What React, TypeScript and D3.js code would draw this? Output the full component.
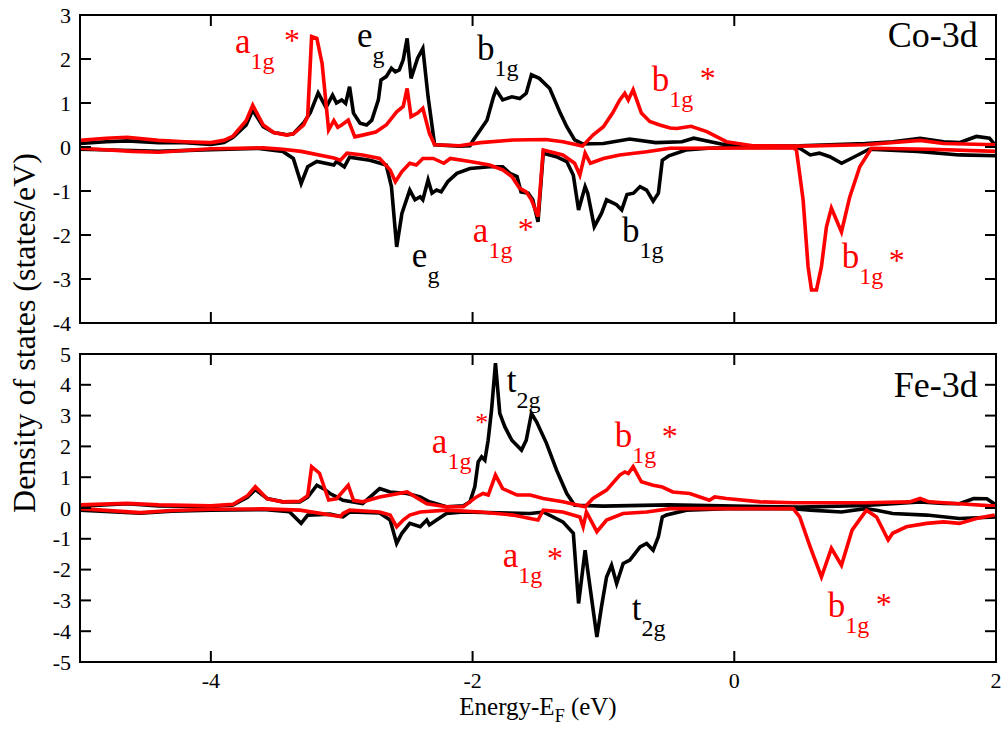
import React from 'react';
import * as d3 from 'd3';

type Pt = [number, number];

const xTicks = [-4, -2, 0, 2];
const coYTicks = [3, 2, 1, 0, -1, -2, -3, -4];
const feYTicks = [5, 4, 3, 2, 1, 0, -1, -2, -3, -4, -5];

// Co-3d, spin up (black)
const coUpBlack: Pt[] = [
  [-5.0, 0.08], [-4.8, 0.12], [-4.64, 0.14], [-4.4, 0.1], [-4.2, 0.1], [-4.0, 0.06], [-3.9, 0.1],
  [-3.83, 0.22], [-3.73, 0.5], [-3.68, 0.84], [-3.6, 0.46], [-3.52, 0.33], [-3.42, 0.28], [-3.37, 0.3],
  [-3.29, 0.55], [-3.24, 0.78], [-3.18, 1.23], [-3.12, 0.9], [-3.07, 1.18], [-3.04, 1.0], [-3.0, 1.07],
  [-2.97, 0.99], [-2.94, 1.37], [-2.91, 0.77], [-2.86, 0.54], [-2.81, 0.5], [-2.77, 0.61], [-2.72, 1.07],
  [-2.7, 1.52], [-2.66, 1.6], [-2.62, 1.79], [-2.59, 1.71], [-2.56, 1.75], [-2.53, 1.98], [-2.5, 2.47],
  [-2.47, 1.56], [-2.42, 2.02], [-2.38, 2.24], [-2.34, 1.14], [-2.29, 0.05], [-2.1, 0.02], [-2.02, 0.03],
  [-2.0, 0.13], [-1.94, 0.39], [-1.89, 0.61], [-1.84, 1.14], [-1.82, 1.3], [-1.77, 1.07], [-1.7, 1.14],
  [-1.64, 1.1], [-1.59, 1.22], [-1.55, 1.64], [-1.49, 1.56], [-1.41, 1.33], [-1.33, 0.77], [-1.28, 0.46],
  [-1.22, 0.16], [-1.16, 0.07], [-1.0, 0.08], [-0.8, 0.18], [-0.6, 0.1], [-0.4, 0.12], [-0.31, 0.2],
  [-0.1, 0.07], [0.1, 0.02], [0.5, 0.03], [1.0, 0.08], [1.21, 0.12], [1.42, 0.2], [1.6, 0.12], [1.72, 0.1],
  [1.85, 0.24], [1.95, 0.2], [2.0, 0.02],
];

// Co-3d, spin up (red)
const coUpRed: Pt[] = [
  [-5.0, 0.15], [-4.8, 0.2], [-4.64, 0.22], [-4.4, 0.15], [-4.2, 0.12], [-4.0, 0.1], [-3.9, 0.15],
  [-3.83, 0.25], [-3.73, 0.6], [-3.68, 0.95], [-3.6, 0.5], [-3.52, 0.33], [-3.42, 0.27], [-3.37, 0.3],
  [-3.29, 0.5], [-3.26, 0.7], [-3.23, 2.51], [-3.19, 2.47], [-3.15, 1.9], [-3.1, 0.39], [-3.06, 0.6],
  [-3.03, 0.45], [-3.0, 0.5], [-2.95, 0.61], [-2.9, 0.23], [-2.84, 0.27], [-2.74, 0.34], [-2.66, 0.5],
  [-2.58, 0.8], [-2.53, 0.92], [-2.5, 1.33], [-2.47, 0.69], [-2.42, 0.77], [-2.38, 0.88], [-2.33, 0.31],
  [-2.29, 0.05], [-2.1, 0.03], [-1.94, 0.1], [-1.69, 0.16], [-1.44, 0.17], [-1.31, 0.12], [-1.16, 0.02],
  [-1.08, 0.27], [-1.0, 0.46], [-0.93, 0.77], [-0.875, 1.07], [-0.837, 1.22], [-0.81, 1.07], [-0.773, 1.3],
  [-0.71, 0.77], [-0.646, 0.58], [-0.57, 0.5], [-0.49, 0.43], [-0.44, 0.42], [-0.33, 0.47], [-0.21, 0.35],
  [-0.06, 0.12], [0.14, 0.03], [0.5, 0.02], [1.0, 0.05], [1.42, 0.15], [1.6, 0.08], [2.0, 0.05],
];

// Co-3d, spin down (black)
const coDnBlack: Pt[] = [
  [-5.0, -0.05], [-4.6, -0.08], [-4.4, -0.1], [-4.0, -0.06], [-3.65, -0.03], [-3.45, -0.1], [-3.37, -0.26],
  [-3.31, -0.83], [-3.26, -0.45], [-3.19, -0.33], [-3.06, -0.41], [-3.04, -0.33], [-2.98, -0.45],
  [-2.94, -0.23], [-2.785, -0.3], [-2.66, -0.41], [-2.62, -0.9], [-2.58, -2.27], [-2.54, -1.51],
  [-2.48, -0.98], [-2.44, -1.2], [-2.4, -1.13], [-2.38, -1.2], [-2.34, -0.75], [-2.31, -1.05],
  [-2.275, -0.98], [-2.24, -1.02], [-2.19, -0.79], [-2.12, -0.6], [-2.02, -0.49], [-1.87, -0.45],
  [-1.77, -0.45], [-1.715, -0.6], [-1.66, -0.67], [-1.63, -1.02], [-1.575, -1.05], [-1.54, -1.2],
  [-1.5, -1.7], [-1.46, -0.14], [-1.36, -0.22], [-1.28, -0.33], [-1.23, -0.64], [-1.19, -1.43],
  [-1.14, -0.9], [-1.12, -1.05], [-1.07, -1.81], [-1.015, -1.51], [-0.976, -1.2], [-0.9, -1.31],
  [-0.86, -1.43], [-0.82, -1.08], [-0.77, -1.05], [-0.72, -0.9], [-0.67, -0.98], [-0.62, -1.23],
  [-0.58, -1.05], [-0.55, -0.3], [-0.5, -0.2], [-0.37, -0.07], [-0.2, -0.03], [0.0, -0.01], [0.45, -0.01],
  [0.5, -0.03], [0.58, -0.18], [0.65, -0.14], [0.73, -0.22], [0.82, -0.37], [0.9, -0.25], [1.03, -0.05],
  [1.4, -0.1], [1.72, -0.18], [2.0, -0.2],
];

// Co-3d, spin down (red)
const coDnRed: Pt[] = [
  [-5.0, -0.03], [-4.6, -0.1], [-4.4, -0.12], [-4.2, -0.08], [-4.0, -0.04], [-3.6, -0.02], [-3.45, -0.05],
  [-3.31, -0.1], [-3.06, -0.25], [-3.01, -0.3], [-2.96, -0.14], [-2.84, -0.18], [-2.71, -0.26],
  [-2.63, -0.52], [-2.59, -0.79], [-2.54, -0.56], [-2.48, -0.37], [-2.43, -0.41], [-2.38, -0.26],
  [-2.3, -0.26], [-2.22, -0.37], [-2.17, -0.26], [-2.02, -0.33], [-1.87, -0.41], [-1.77, -0.52],
  [-1.7, -0.67], [-1.64, -0.94], [-1.59, -1.02], [-1.55, -1.2], [-1.5, -1.58], [-1.46, -0.07],
  [-1.31, -0.18], [-1.22, -0.37], [-1.18, -0.64], [-1.14, -0.14], [-1.1, -0.37], [-1.0, -0.26],
  [-0.875, -0.18], [-0.67, -0.11], [-0.49, -0.03], [0.45, -0.02], [0.475, -0.07], [0.526, -1.2],
  [0.564, -2.72], [0.59, -3.25], [0.628, -3.25], [0.666, -2.72], [0.704, -1.82], [0.742, -1.39],
  [0.819, -1.93], [0.882, -1.14], [0.959, -0.45], [1.048, -0.03], [1.5, -0.05], [2.0, -0.1],
];

// Fe-3d, spin up (black)
const feUpBlack: Pt[] = [
  [-5.0, 0.06], [-4.64, 0.14], [-4.4, 0.07], [-4.0, 0.05], [-3.83, 0.1], [-3.72, 0.35], [-3.66, 0.6],
  [-3.57, 0.31], [-3.45, 0.2], [-3.32, 0.2], [-3.26, 0.35], [-3.19, 0.74], [-3.13, 0.6], [-3.09, 0.47],
  [-3.04, 0.36], [-2.99, 0.25], [-2.84, 0.14], [-2.71, 0.63], [-2.63, 0.52], [-2.5, 0.47], [-2.4, 0.36],
  [-2.33, 0.2], [-2.2, 0.04], [-2.07, 0.07], [-2.02, 0.2], [-1.983, 0.69], [-1.957, 1.5], [-1.931, 1.66],
  [-1.906, 1.55], [-1.881, 2.2], [-1.855, 3.18], [-1.825, 4.7], [-1.792, 3.07], [-1.754, 2.64],
  [-1.7, 2.2], [-1.626, 1.88], [-1.59, 2.2], [-1.55, 3.07], [-1.511, 2.8], [-1.435, 2.1], [-1.358, 1.23],
  [-1.28, 0.47], [-1.22, 0.09], [-1.0, 0.06], [-0.5, 0.1], [0.0, 0.06], [0.5, 0.03], [1.0, 0.08],
  [1.42, 0.2], [1.6, 0.15], [1.72, 0.14], [1.83, 0.31], [1.93, 0.3], [2.0, 0.1],
];

// Fe-3d, spin up (red)
const feUpRed: Pt[] = [
  [-5.0, 0.1], [-4.64, 0.15], [-4.4, 0.1], [-4.0, 0.07], [-3.83, 0.12], [-3.72, 0.4], [-3.66, 0.69],
  [-3.57, 0.3], [-3.45, 0.2], [-3.32, 0.22], [-3.26, 0.4], [-3.23, 1.34], [-3.17, 1.13], [-3.1, 0.26],
  [-3.04, 0.3], [-2.95, 0.74], [-2.91, 0.25], [-2.84, 0.2], [-2.71, 0.36], [-2.5, 0.52], [-2.35, 0.14],
  [-2.2, 0.04], [-2.07, 0.04], [-1.97, 0.36], [-1.92, 0.47], [-1.88, 0.42], [-1.825, 1.07], [-1.77, 0.63],
  [-1.66, 0.42], [-1.56, 0.42], [-1.46, 0.31], [-1.31, 0.2], [-1.14, 0.04], [-1.08, 0.31], [-0.976, 0.58],
  [-0.875, 1.07], [-0.837, 1.17], [-0.81, 1.12], [-0.773, 1.34], [-0.71, 0.85], [-0.62, 0.74],
  [-0.55, 0.68], [-0.47, 0.52], [-0.34, 0.47], [-0.19, 0.25], [-0.15, 0.36], [-0.06, 0.31], [0.2, 0.2],
  [0.45, 0.17], [1.0, 0.17], [1.34, 0.2], [1.42, 0.31], [1.49, 0.2], [1.72, 0.14], [2.0, 0.06],
];

// Fe-3d, spin down (black)
const feDnBlack: Pt[] = [
  [-5.0, -0.07], [-4.54, -0.17], [-4.3, -0.1], [-4.0, -0.07], [-3.6, -0.05], [-3.4, -0.12], [-3.31, -0.5],
  [-3.26, -0.23], [-3.09, -0.2], [-2.99, -0.29], [-2.94, -0.13], [-2.71, -0.16], [-2.63, -0.39],
  [-2.58, -1.15], [-2.54, -0.82], [-2.48, -0.5], [-2.4, -0.61], [-2.35, -0.39], [-2.33, -0.55],
  [-2.275, -0.39], [-2.2, -0.18], [-2.07, -0.13], [-1.56, -0.18], [-1.46, -0.13], [-1.31, -0.45],
  [-1.23, -0.82], [-1.19, -3.1], [-1.14, -1.37], [-1.12, -2.02], [-1.05, -4.19], [-1.015, -3.21],
  [-0.976, -2.24], [-0.938, -1.86], [-0.899, -2.45], [-0.849, -1.8], [-0.798, -1.69], [-0.72, -1.26],
  [-0.67, -1.15], [-0.62, -1.37], [-0.58, -0.93], [-0.55, -0.29], [-0.518, -0.23], [-0.365, -0.07],
  [-0.06, -0.02], [0.45, -0.02], [0.58, -0.07], [0.819, -0.13], [1.0, -0.02], [1.087, -0.07],
  [1.21, -0.18], [1.47, -0.23], [1.72, -0.34], [2.0, -0.29],
];

// Fe-3d, spin down (red)
const feDnRed: Pt[] = [
  [-5.0, -0.02], [-4.54, -0.15], [-4.3, -0.08], [-4.0, -0.04], [-3.6, -0.03], [-3.32, -0.07],
  [-3.01, -0.28], [-2.99, -0.18], [-2.94, -0.07], [-2.71, -0.13], [-2.63, -0.23], [-2.58, -0.61],
  [-2.53, -0.39], [-2.48, -0.23], [-2.4, -0.13], [-2.2, -0.07], [-1.94, -0.13], [-1.69, -0.23],
  [-1.56, -0.34], [-1.5, -0.39], [-1.46, -0.07], [-1.31, -0.13], [-1.18, -0.29], [-1.155, -0.61],
  [-1.13, -0.13], [-1.05, -0.77], [-0.976, -0.39], [-0.85, -0.18], [-0.67, -0.13], [-0.49, -0.02],
  [0.45, -0.02], [0.5, -0.29], [0.58, -1.26], [0.666, -2.24], [0.742, -1.31], [0.819, -1.86],
  [0.9, -0.72], [1.01, -0.07], [1.087, -0.29], [1.176, -1.04], [1.21, -0.82], [1.315, -0.61],
  [1.47, -0.5], [1.6, -0.45], [1.72, -0.5], [1.85, -0.34], [1.99, -0.23],
];

type Ann = { x: number; y: number; main: string; sub: string; color: string; star?: [number, number]; starSize?: number };

const coLabels: Ann[] = [
  { x: -3.816, y: 2.136, main: 'a', sub: '1g', color: 'red', star: [-3.38, 2.534] },
  { x: -2.884, y: 2.273, main: 'e', sub: 'g', color: 'black' },
  { x: -1.967, y: 1.977, main: 'b', sub: '1g', color: 'black' },
  { x: -0.63, y: 1.273, main: 'b', sub: '1g', color: 'red', star: [-0.202, 1.67] },
  { x: -2.464, y: -2.727, main: 'e', sub: 'g', color: 'black' },
  { x: -1.998, y: -2.159, main: 'a', sub: '1g', color: 'red', star: [-1.593, -1.773] },
  { x: -0.859, y: -2.159, main: 'b', sub: '1g', color: 'black' },
  { x: 0.821, y: -2.75, main: 'b', sub: '1g', color: 'red', star: [1.241, -2.466] },
];

const feLabels: Ann[] = [
  { x: -1.738, y: 3.765, main: 't', sub: '2g', color: 'black' },
  { x: -2.311, y: 1.783, main: 'a', sub: '1g', color: 'red', star: [-1.929, 2.888], starSize: 26 },
  { x: -0.913, y: 1.978, main: 'b', sub: '1g', color: 'red', star: [-0.493, 2.481] },
  { x: -1.769, y: -1.922, main: 'a', sub: '1g', color: 'red', star: [-1.371, -1.484] },
  { x: -0.783, y: -3.645, main: 't', sub: '2g', color: 'black' },
  { x: 0.714, y: -3.547, main: 'b', sub: '1g', color: 'red', star: [1.142, -2.995] },
];

const FONT = '"Liberation Serif", "Times New Roman", "DejaVu Serif", serif';
const RED = '#ff0000';

const xScale = d3.scaleLinear().domain([-5, 2]).range([80, 996]);

function Panel(props: {
  y: d3.ScaleLinear<number, number>;
  yTicks: number[];
  series: { data: Pt[]; color: string }[];
  labels: Ann[];
  title: string;
  titlePos: [number, number];
  id: string;
  showX: boolean;
}) {
  const { y, yTicks, series, labels, title, titlePos, id, showX } = props;
  const x = xScale;
  const [x0, x1] = x.range();
  const [yb, yt] = y.range();
  const line = d3.line<Pt>().x((d) => x(d[0])).y((d) => y(d[1]));
  const tl = 11;
  return (
    <g>
      <defs>
        <clipPath id={id}>
          <rect x={x0} y={yt} width={x1 - x0} height={yb - yt} />
        </clipPath>
      </defs>
      <g clipPath={`url(#${id})`}>
        {series.map((s, i) => (
          <path key={i} d={line(s.data) || ''} fill="none" stroke={s.color} strokeWidth={3.6} />
        ))}
      </g>
      <rect x={x0} y={yt} width={x1 - x0} height={yb - yt} fill="none" stroke="#000" strokeWidth={2} />
      {yTicks.map((t) => (
        <g key={t}>
          <line x1={x0} x2={x0 + tl} y1={y(t)} y2={y(t)} stroke="#000" strokeWidth={2} />
          <line x1={x1} x2={x1 - tl} y1={y(t)} y2={y(t)} stroke="#000" strokeWidth={2} />
          <text x={x0 - 9} y={y(t)} textAnchor="end" dominantBaseline="central" fontSize={22} fontFamily={FONT} fill="#000">
            {String(t)}
          </text>
        </g>
      ))}
      {xTicks.map((t) => (
        <g key={t}>
          <line x1={x(t)} x2={x(t)} y1={yb} y2={yb - tl} stroke="#000" strokeWidth={2} />
          <line x1={x(t)} x2={x(t)} y1={yt} y2={yt + tl} stroke="#000" strokeWidth={2} />
          {showX && (
            <text x={x(t)} y={yb + 26} textAnchor="middle" fontSize={22} fontFamily={FONT} fill="#000">
              {String(t)}
            </text>
          )}
        </g>
      ))}
      {labels.map((a, i) => {
        const c = a.color === 'red' ? RED : '#000';
        const ss = a.starSize || 32;
        return (
          <g key={i}>
            <text x={x(a.x)} y={y(a.y)} fill={c} fontSize={35} fontFamily={FONT}>
              {a.main}
              <tspan fontSize={24} dy={16}>{a.sub}</tspan>
            </text>
            {a.star && (
              <text x={x(a.star[0])} y={y(a.star[1]) + 0.47 * ss} textAnchor="middle" fill={c} fontSize={ss} fontFamily={FONT}>
                *
              </text>
            )}
          </g>
        );
      })}
      <text x={x(titlePos[0])} y={y(titlePos[1])} textAnchor="end" fontSize={36} fontFamily={FONT} fill="#000">
        {title}
      </text>
    </g>
  );
}

export default function App() {
  const yCo = d3.scaleLinear().domain([-4, 3]).range([323, 15]);
  const yFe = d3.scaleLinear().domain([-5, 5]).range([662, 354]);
  return (
    <svg width={1008} height={732} style={{ position: 'absolute', left: 0, top: 0, background: '#fff' }}>
      <rect width={1008} height={732} fill="#fff" />
      <Panel
        id="clipCo"
        y={yCo}
        yTicks={coYTicks}
        series={[
          { data: coUpBlack, color: '#000' },
          { data: coDnBlack, color: '#000' },
          { data: coUpRed, color: RED },
          { data: coDnRed, color: RED },
        ]}
        labels={coLabels}
        title="Co-3d"
        titlePos={[1.86, 2.28]}
        showX={false}
      />
      <Panel
        id="clipFe"
        y={yFe}
        yTicks={feYTicks}
        series={[
          { data: feUpBlack, color: '#000' },
          { data: feDnBlack, color: '#000' },
          { data: feUpRed, color: RED },
          { data: feDnRed, color: RED },
        ]}
        labels={feLabels}
        title="Fe-3d"
        titlePos={[1.86, 3.6]}
        showX={true}
      />
      <text x={538} y={715} textAnchor="middle" fontSize={25} fontFamily={FONT} fill="#000">
        Energy-E<tspan fontSize={18} dy={7}>F</tspan><tspan dy={-7}> (eV)</tspan>
      </text>
      <text
        transform="translate(35,333) rotate(-90)"
        textAnchor="middle"
        fontSize={32}
        fontFamily={FONT}
        fill="#000"
      >
        Density of states (states/eV)
      </text>
    </svg>
  );
}
